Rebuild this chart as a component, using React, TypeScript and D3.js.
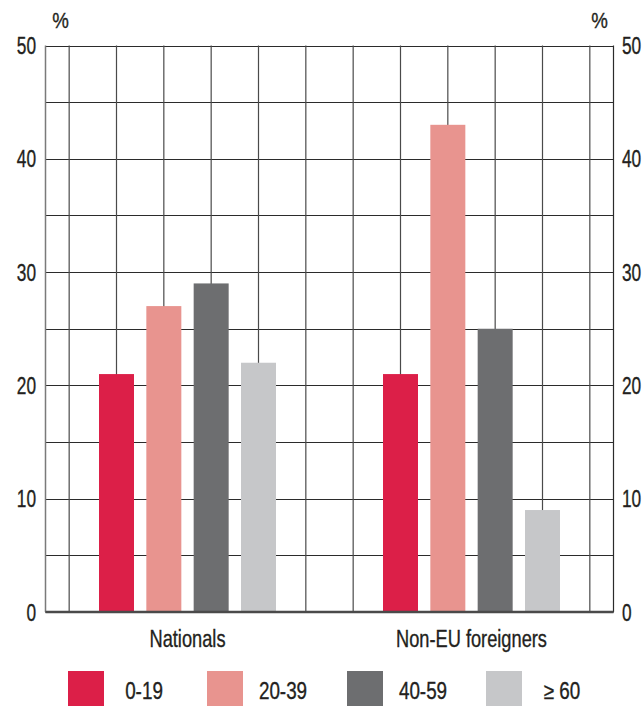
import React from "react";
import * as d3 from "d3";

const categories = ["Nationals", "Non-EU foreigners"];
const seriesNames = ["0-19", "20-39", "40-59", "≥ 60"];
const nationals = [21, 27, 29, 22];
const nonEU = [21, 43, 25, 9];
const colors = ["#DC1F48", "#E8948F", "#6D6E70", "#C6C7C9"];
const yTicks = [0, 10, 20, 30, 40, 50];
const gridValues = [0, 5, 10, 15, 20, 25, 30, 35, 40, 45, 50];

const W = 644;
const H = 706;
const left = 45.5;
const right = 613.5;
const top = 45.5;
const bottom = 612;
const FONT = "'Liberation Sans', Arial, sans-serif";
const TXT = "#231F20";

function T(props: { x: number; y: number; anchor?: string; size?: number; sx?: number; dy?: string; children: React.ReactNode }) {
  const { x, y, anchor = "start", size = 23, sx = 0.8, dy, children } = props;
  return (
    <g transform={`translate(${x},${y}) scale(${sx},1)`}>
      <text x={0} y={0} dy={dy} textAnchor={anchor as any} fontSize={size} fill={TXT} stroke={TXT} strokeWidth={0.35} fontFamily={FONT}>
        {children}
      </text>
    </g>
  );
}

export default function App() {
  const values = [nationals, nonEU];
  const y = d3.scaleLinear().domain([0, 50]).range([bottom, top]);
  const outer = d3.scaleBand<string>().domain(categories).range([left, right]);
  const inner = d3.scaleBand<number>().domain(d3.range(6)).range([0, outer.bandwidth()]);
  const slotCenters: number[] = [];
  categories.forEach((c) => {
    d3.range(6).forEach((i) => {
      slotCenters.push((outer(c) as number) + (inner(i) as number) + inner.bandwidth() / 2);
    });
  });
  const barW = 35;
  const legendX = [68, 207, 347, 486];

  return (
    <svg width={W} height={H} style={{ position: "absolute", left: 0, top: 0, background: "#fff" }}>
      {gridValues.map((v) => (
        <line key={"h" + v} x1={left} x2={right} y1={Math.round(y(v)) + 0.5} y2={Math.round(y(v)) + 0.5} stroke="#2b2b2b" strokeWidth={1.2} />
      ))}
      {slotCenters.map((cx, i) => (
        <line key={"v" + i} x1={cx} x2={cx} y1={top} y2={bottom} stroke="#4a4a4a" strokeWidth={1.2} />
      ))}
      <line x1={left} x2={left} y1={top} y2={bottom} stroke="#7a7a7a" strokeWidth={1.5} />
      <line x1={right} x2={right} y1={top} y2={bottom} stroke="#2b2b2b" strokeWidth={1.2} />
      {categories.map((c, ci) =>
        values[ci].map((v, si) => {
          const cx = (outer(c) as number) + (inner(si + 1) as number) + inner.bandwidth() / 2;
          return <rect key={c + si} x={cx - barW / 2} y={y(v)} width={barW} height={y(0) - y(v)} fill={colors[si]} />;
        })
      )}
      <line x1={left} x2={right} y1={bottom} y2={bottom} stroke="#4a4a4a" strokeWidth={2.5} />
      {yTicks.map((t) => (
        <g key={"t" + t}>
          <T x={36} y={y(t)} dy="0.36em" anchor="end" size={24} sx={0.72}>{t}</T>
          <T x={622} y={y(t)} dy="0.36em" anchor="start" size={24} sx={0.72}>{t}</T>
        </g>
      ))}
      <T x={60.5} y={28} anchor="middle" size={22} sx={0.85}>%</T>
      <T x={599.5} y={28} anchor="middle" size={22} sx={0.85}>%</T>
      {categories.map((c) => (
        <T key={c} x={(outer(c) as number) + outer.bandwidth() / 2} y={647} anchor="middle" size={24} sx={0.76}>{c}</T>
      ))}
      {seriesNames.map((s, i) => (
        <g key={s}>
          <rect x={legendX[i]} y={671} width={36} height={35} fill={colors[i]} />
          <T x={legendX[i] + 76} y={699} anchor="middle" size={23} sx={0.82}>{s}</T>
        </g>
      ))}
    </svg>
  );
}
